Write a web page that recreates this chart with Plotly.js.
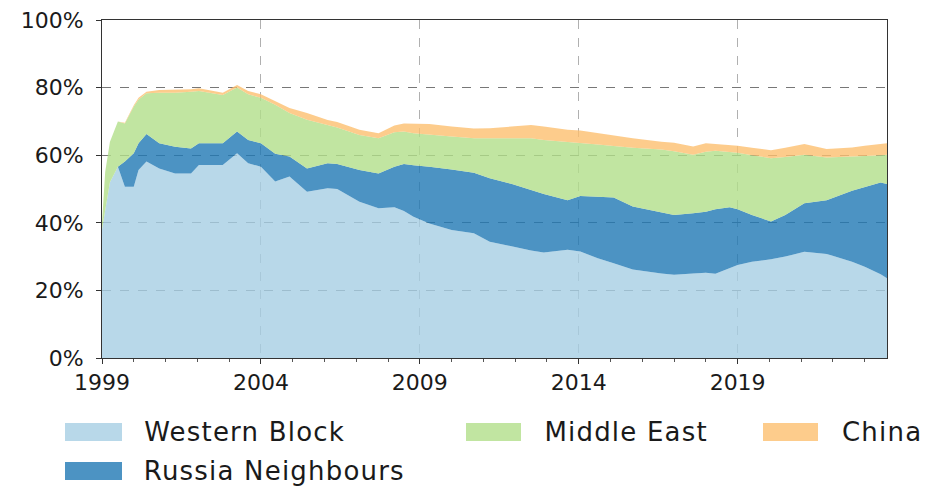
<!DOCTYPE html>
<html><head><meta charset="utf-8">
<script src="https://cdn.plot.ly/plotly-3.0.1.min.js"></script>
<style>html,body{margin:0;padding:0;background:#fff}#chart{width:931px;height:490px}
#chart .annotation-text{letter-spacing:1.2px}</style>
</head><body><div id="chart"></div>
<script>
// ---- data (share of total, %) ----
const years = [1999.0,1999.1,1999.25,1999.5,1999.72,2000.0,2000.15,2000.4,2000.8,2001.3,2001.8,2002.05,2002.8,2003.25,2003.6,2004.0,2004.45,2004.9,2005.45,2006.1,2006.4,2007.1,2007.7,2008.2,2008.5,2008.8,2009.3,2010.0,2010.7,2011.2,2011.9,2012.5,2012.9,2013.65,2014.05,2014.6,2015.1,2015.7,2016.6,2017.0,2017.6,2018.0,2018.3,2018.75,2019.0,2019.45,2020.05,2020.5,2021.1,2021.8,2022.6,2023.0,2023.5,2023.7];
const westernBlock = [38,44,52,56.6,50.7,50.7,55.6,58.1,56.1,54.6,54.6,57.1,57.1,60.6,57.6,56.6,52.2,53.7,49.2,50.2,50.0,46.2,44.3,44.6,43.5,41.8,39.8,37.9,36.9,34.4,32.9,31.8,31.2,32.0,31.5,29.5,28.0,26.2,25.0,24.6,25.0,25.2,24.9,26.5,27.5,28.5,29.2,30.0,31.4,30.8,28.5,27.0,24.8,23.6];
const russiaNeighbours = [0,0,0,0,7.4,9.9,7.9,8.2,7.4,7.9,7.4,6.4,6.4,6.4,6.9,6.9,8.2,5.9,6.9,7.4,7.4,9.4,10.3,12.0,13.9,15.2,16.8,17.9,17.9,18.8,18.6,17.9,17.3,14.7,16.4,18.2,19.5,18.6,18.0,17.7,17.8,18.1,19.1,18.1,16.5,13.8,11.2,12.3,14.4,15.9,21.0,23.5,27.1,27.9];
const middleEast = [2,11,12,13.4,11.3,13.8,13.0,12.0,15.0,16.0,16.8,15.5,14.3,13.0,13.5,13.5,14.5,12.9,14.4,11.3,10.8,10.4,10.4,10.2,9.6,9.5,9.4,9.7,10.2,11.8,13.5,15.3,16.0,17.3,15.8,15.5,15.2,17.4,18.7,18.9,17.3,17.7,17.3,16.4,16.7,17.7,18.7,17.2,14.3,12.6,10.0,9.3,8.1,8.6];
const china = [0,0,0,0,0.2,0.4,0.5,0.5,0.8,0.8,0.7,0.8,0.7,0.8,1.0,1.0,1.1,1.5,2.0,1.5,1.6,1.5,1.5,2.0,2.4,2.8,3.2,3.0,2.9,3.0,3.5,3.9,4.0,3.5,3.6,3.3,3.0,2.8,2.3,2.5,2.5,2.5,2.0,2.0,2.1,2.2,2.4,2.7,3.2,2.5,2.8,3.0,3.3,3.4];
const seriesNames = ['Western Block','Russia Neighbours','Middle East','China'];
const xTickYears = [1999,2004,2009,2014,2019];
const yTickValues = [0,20,40,60,80,100];

// ---- styling ----
const fills = ['rgba(166,206,227,0.8)','rgba(31,120,180,0.8)','rgba(178,223,138,0.8)','rgba(253,191,111,0.8)'];
const seriesData = [westernBlock, russiaNeighbours, middleEast, china];

const traces = seriesData.map((vals, i) => ({
  x: years, y: vals, name: seriesNames[i], type: 'scatter', mode: 'lines',
  stackgroup: 'one', line: {width: 0, shape: 'linear'}, fillcolor: fills[i],
  showlegend: false, hoverinfo: 'x+y+name'
}));

// plot-area pixel box, for the hand-drawn legend
const L = 102, R = 887, T = 20, B = 358;
const px = p => (p - L) / (R - L);
const py = p => (B - p) / (B - T);

const legendItems = [
  {i: 0, x0: 65, x1: 122, yc: 432, tx: 150},
  {i: 2, x0: 466, x1: 521, yc: 432, tx: 549},
  {i: 3, x0: 763, x1: 818, yc: 432, tx: 843},
  {i: 1, x0: 65, x1: 122, yc: 471, tx: 152}
];
const shapes = legendItems.map(it => ({
  type: 'rect', xref: 'paper', yref: 'paper',
  x0: px(it.x0), x1: px(it.x1), y0: py(it.yc - 9), y1: py(it.yc + 9),
  fillcolor: fills[it.i], line: {width: 0}
}));
const annotations = legendItems.map(it => ({
  xref: 'paper', yref: 'paper', x: px(it.tx), y: py(it.yc),
  xanchor: 'left', yanchor: 'middle', showarrow: false,
  text: seriesNames[it.i], font: {size: 26, color: '#1a1a1a', family: 'DejaVu Sans'}
}));

const layout = {
  width: 931, height: 490,
  margin: {l: L, r: 931 - R, t: T, b: 490 - B},
  paper_bgcolor: '#fff', plot_bgcolor: '#fff',
  font: {family: 'DejaVu Sans', size: 22, color: '#1a1a1a'},
  showlegend: false,
  xaxis: {
    range: [1999, 2023.7], tickmode: 'array', tickvals: xTickYears, ticktext: xTickYears.map(String),
    ticks: 'outside', ticklen: 5, tickcolor: '#333', tickfont: {size: 22},
    showgrid: true, gridcolor: '#b0b0b0', griddash: 'dash', gridwidth: 1,
    minor: {dtick: 1, ticks: 'outside', ticklen: 3, tickcolor: '#555', showgrid: false},
    showline: true, linecolor: '#333', linewidth: 1, mirror: true, zeroline: false
  },
  yaxis: {
    range: [0, 100], tickmode: 'array', tickvals: yTickValues, ticktext: yTickValues.map(v => v + '%'),
    ticks: 'outside', ticklen: 5, tickcolor: '#333', tickfont: {size: 22}, ticklabelstandoff: 8,
    showgrid: true, gridcolor: '#777', griddash: 'dash', gridwidth: 1,
    showline: true, linecolor: '#333', linewidth: 1, mirror: true, zeroline: false
  },
  shapes: shapes,
  annotations: annotations
};

Plotly.newPlot('chart', traces, layout, {staticPlot: true, displayModeBar: false});
</script></body></html>
